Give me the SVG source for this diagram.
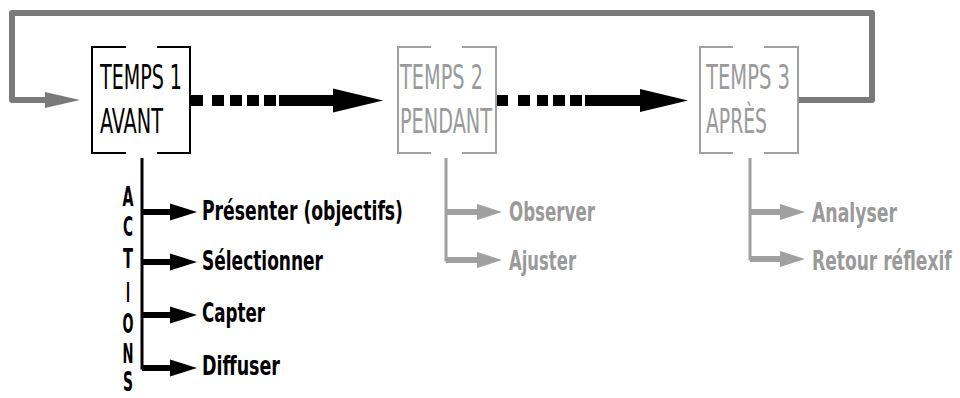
<svg xmlns="http://www.w3.org/2000/svg" width="960" height="398" viewBox="0 0 960 398">
<style>
.t{font-family:"Liberation Sans Narrow","DejaVu Sans Condensed","Liberation Sans",sans-serif;}
.title{font-size:34px;}
.lbl{font-size:27px;font-weight:bold;}
.let{font-size:26px;font-weight:bold;}
.blk{fill:#000;}
.gry{fill:#9a9a9a;}
.brk{fill:none;stroke-width:2;}
.bb{stroke:#000;}
.bg{stroke:#a0a0a0;}
</style>
<rect width="960" height="398" fill="#fff"/>
<g id="connectors">
  <path d="M798 100 H872 V13 H12 V100 H50" fill="none" stroke="#7a7a7a" stroke-width="6" stroke-linejoin="round"/>
  <polygon points="45,92 80,100 45,108" fill="#7a7a7a"/>
  <g fill="#000">
    <rect x="190" y="95" width="13" height="11"/>
    <rect x="212" y="95" width="12" height="11"/>
    <rect x="230" y="95" width="12" height="11"/>
    <rect x="247" y="95" width="12" height="11"/>
    <rect x="264" y="95" width="12" height="11"/>
    <rect x="279" y="95" width="56" height="11"/>
    <polygon points="333,88.5 383,100.5 333,112.5"/>
    <rect x="496" y="95" width="12" height="11"/>
    <rect x="518" y="95" width="12" height="11"/>
    <rect x="537" y="95" width="11" height="11"/>
    <rect x="553" y="95" width="12" height="11"/>
    <rect x="570" y="95" width="12" height="11"/>
    <rect x="585" y="95" width="57" height="11"/>
    <polygon points="640,89 688,100.5 640,112"/>
  </g>
  <g id="actions-branches">
    <path d="M142 158 V368 H172" fill="none" stroke="#000" stroke-width="3"/>
    <g stroke="#000" stroke-width="6">
      <line x1="142" y1="212" x2="172" y2="212"/>
      <line x1="142" y1="262" x2="172" y2="262"/>
      <line x1="142" y1="315" x2="172" y2="315"/>
      <line x1="142" y1="368" x2="172" y2="368"/>
    </g>
    <g fill="#000">
      <polygon points="170,203.5 197,212 170,220.5"/>
      <polygon points="170,253.5 197,262 170,270.5"/>
      <polygon points="170,306.5 197,315 170,323.5"/>
      <polygon points="170,359.5 197,368 170,376.5"/>
    </g>
  </g>
  <g id="pendant-branches">
    <path d="M446 158 V260 H480" fill="none" stroke="#a0a0a0" stroke-width="3"/>
    <g stroke="#a0a0a0" stroke-width="6">
      <line x1="446" y1="212" x2="480" y2="212"/>
      <line x1="446" y1="260" x2="480" y2="260"/>
    </g>
    <g fill="#a0a0a0">
      <polygon points="477,204 502,212 477,220"/>
      <polygon points="477,252 502,260 477,268"/>
    </g>
  </g>
  <g id="apres-branches">
    <path d="M750 158 V259 H783" fill="none" stroke="#a0a0a0" stroke-width="3"/>
    <g stroke="#a0a0a0" stroke-width="6">
      <line x1="750" y1="212" x2="783" y2="212"/>
      <line x1="750" y1="259" x2="783" y2="259"/>
    </g>
    <g fill="#a0a0a0">
      <polygon points="780,204 805,212 780,220"/>
      <polygon points="780,251 805,259 780,267"/>
    </g>
  </g>
</g>
<g id="temps1">
  <path class="brk bb" d="M126 47 H92 V153 H126 M157 47 H190 V153 H157"/>
  <text class="t title blk" x="100" y="89" textLength="82" lengthAdjust="spacingAndGlyphs">TEMPS 1</text>
  <text class="t title blk" x="100" y="133" textLength="63" lengthAdjust="spacingAndGlyphs">AVANT</text>
</g>
<g id="temps2">
  <path class="brk bg" d="M431 47 H398 V153 H431 M462 47 H496 V153 H462"/>
  <text class="t title gry" x="400" y="89" textLength="83" lengthAdjust="spacingAndGlyphs">TEMPS 2</text>
  <text class="t title gry" x="400" y="133" textLength="92" lengthAdjust="spacingAndGlyphs">PENDANT</text>
</g>
<g id="temps3">
  <path class="brk bg" d="M733 47 H700 V153 H733 M764 47 H798 V153 H764"/>
  <text class="t title gry" x="706" y="89" textLength="84" lengthAdjust="spacingAndGlyphs">TEMPS 3</text>
  <text class="t title gry" x="706" y="133" textLength="61" lengthAdjust="spacingAndGlyphs">APRÈS</text>
</g>
<g id="actions-label">
  <text class="t let blk" x="122.5" y="206" textLength="11" lengthAdjust="spacingAndGlyphs">A</text>
  <text class="t let blk" x="123" y="236" textLength="10" lengthAdjust="spacingAndGlyphs">C</text>
  <text class="t let blk" x="123" y="268" textLength="10" lengthAdjust="spacingAndGlyphs">T</text>
  <text class="t let blk" x="126" y="302" textLength="4" lengthAdjust="spacingAndGlyphs">I</text>
  <text class="t let blk" x="122.5" y="333" textLength="11" lengthAdjust="spacingAndGlyphs">O</text>
  <text class="t let blk" x="122.5" y="363" textLength="11" lengthAdjust="spacingAndGlyphs">N</text>
  <text class="t let blk" x="123" y="391" textLength="10" lengthAdjust="spacingAndGlyphs">S</text>
</g>
<g id="action-presenter"><text class="t lbl blk" x="202" y="220" textLength="201" lengthAdjust="spacingAndGlyphs">Présenter (objectifs)</text></g>
<g id="action-selectionner"><text class="t lbl blk" x="202" y="270" textLength="121" lengthAdjust="spacingAndGlyphs">Sélectionner</text></g>
<g id="action-capter"><text class="t lbl blk" x="202" y="322" textLength="63" lengthAdjust="spacingAndGlyphs">Capter</text></g>
<g id="action-diffuser"><text class="t lbl blk" x="202" y="375" textLength="78" lengthAdjust="spacingAndGlyphs">Diffuser</text></g>
<g id="pendant-observer"><text class="t lbl gry" x="509" y="221" textLength="86" lengthAdjust="spacingAndGlyphs">Observer</text></g>
<g id="pendant-ajuster"><text class="t lbl gry" x="509" y="270" textLength="67" lengthAdjust="spacingAndGlyphs">Ajuster</text></g>
<g id="apres-analyser"><text class="t lbl gry" x="812" y="222" textLength="85" lengthAdjust="spacingAndGlyphs">Analyser</text></g>
<g id="apres-retour"><text class="t lbl gry" transform="translate(812,270) scale(0.65,1)" x="0" y="0" textLength="215" lengthAdjust="spacingAndGlyphs">Retour réflexif</text></g>
</svg>
